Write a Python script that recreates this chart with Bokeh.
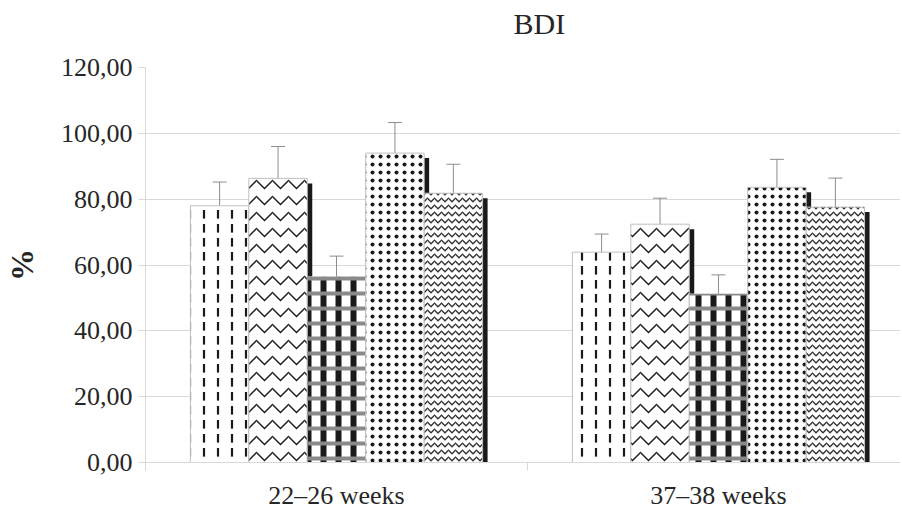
from bokeh.plotting import figure
from bokeh.models import (Range1d, FixedTicker, ColumnDataSource, Whisker, TeeHead, Title)
from bokeh.embed import file_html
from bokeh.resources import INLINE

# ---- data ----
groups = ["22–26 weeks", "37–38 weeks"]
means_g1 = [78.0, 86.3, 56.4, 94.0, 81.8]
errs_g1 = [7.2, 9.7, 6.3, 9.3, 8.8]
means_g2 = [63.9, 72.4, 51.2, 83.6, 77.6]
errs_g2 = [5.5, 7.9, 5.8, 8.5, 8.8]
y_ticks = [0, 20, 40, 60, 80, 100, 120]
y_tick_labels = ["0,00", "20,00", "40,00", "60,00", "80,00", "100,00", "120,00"]
title_text = "BDI"
y_label = "%"

FONT = "Liberation Serif"
TXT = "#262626"
W, H = 900, 512
left_b, right_b, top_b, bottom_b = 143, 0, 67, 49
frame_w = W - left_b - right_b
frame_h = H - top_b - bottom_b
group_px = 383.0
x_end = frame_w / group_px
bar_w = 0.153
px_x = 1.0 / group_px           # data units per pixel in x
px_y = 120.0 / frame_h

p = figure(width=W, height=H, output_backend="svg", toolbar_location=None,
           x_range=Range1d(0, x_end), y_range=Range1d(0, 120),
           min_border_left=left_b, min_border_right=right_b,
           min_border_top=top_b, min_border_bottom=bottom_b)
p.outline_line_color = None
p.background_fill_color = "white"
p.border_fill_color = "white"

series_means = list(zip(means_g1, means_g2))
series_errs = list(zip(errs_g1, errs_g2))
n = len(series_means)
centers = [0.5 + g for g in range(len(groups))]

hatches = [
    dict(hatch_pattern="vertical_dash", hatch_scale=14, hatch_weight=2.2, hatch_color="#1a1a1a"),
    dict(hatch_pattern="horizontal_wave", hatch_scale=16, hatch_weight=1.3, hatch_color="#1a1a1a"),
    dict(hatch_pattern="vertical_line", hatch_scale=15, hatch_weight=6, hatch_color="#1a1a1a"),
    dict(hatch_pattern="dot", hatch_scale=8, hatch_weight=4.5, hatch_color="#1a1a1a"),
    dict(hatch_pattern="horizontal_wave", hatch_scale=7, hatch_weight=1.3, hatch_color="#333333"),
]

sources = []
for i in range(n):
    xs = [c + (i - (n - 1) / 2) * bar_w for c in centers]
    tops = list(series_means[i])
    errs = list(series_errs[i])
    src = ColumnDataSource(dict(
        x=xs, top=tops,
        sx=[x + 5 * px_x for x in xs],
        stop=[t - 5 * px_y for t in tops],
        lower=[t - e for t, e in zip(tops, errs)],
        upper=[t + e for t, e in zip(tops, errs)],
    ))
    sources.append(src)

# shadows
for src in sources:
    p.vbar(x="sx", top="stop", bottom=0, width=bar_w, source=src,
           fill_color="#1a1a1a", line_color=None)
# bars
for i, src in enumerate(sources):
    p.vbar(x="x", top="top", bottom=0, width=bar_w, source=src,
           fill_color="white", line_color="#c0c0c0", line_width=1, **hatches[i])
    if i == 2:
        p.vbar(x="x", top="top", bottom=0, width=bar_w, source=src,
               fill_alpha=0, line_color=None, hatch_pattern="horizontal_line",
               hatch_scale=15, hatch_weight=4, hatch_color="#8a8a8a")
# error bars
for src in sources:
    w = Whisker(base="x", lower="lower", upper="upper", source=src,
                line_color="#8c8c8c", line_width=1,
                upper_head=TeeHead(size=14, line_color="#8c8c8c", line_width=1),
                lower_head=TeeHead(size=14, line_color="#8c8c8c", line_width=1))
    p.add_layout(w)

# y axis
p.yaxis.ticker = FixedTicker(ticks=y_ticks)
p.yaxis.major_label_overrides = {t: l for t, l in zip(y_ticks, y_tick_labels)}
p.yaxis.major_label_text_font = FONT
p.yaxis.major_label_text_font_size = "26px"
p.yaxis.major_label_text_color = TXT
p.yaxis.axis_line_color = "#d9d9d9"
p.yaxis.major_tick_line_color = "#d9d9d9"
p.yaxis.major_tick_in = 0
p.yaxis.major_tick_out = 7
p.yaxis.minor_tick_line_color = None
p.yaxis.major_label_standoff = 6
p.yaxis.axis_label = y_label
p.yaxis.axis_label_text_font = FONT
p.yaxis.axis_label_text_font_size = "32px"
p.yaxis.axis_label_text_font_style = "bold"
p.yaxis.axis_label_text_color = TXT
p.yaxis.axis_label_standoff = 18

# x axis
p.xaxis.ticker = FixedTicker(ticks=centers, minor_ticks=[float(g) for g in range(len(groups) + 1)])
p.xaxis.major_label_overrides = {c: g for c, g in zip(centers, groups)}
p.xaxis.major_label_text_font = FONT
p.xaxis.major_label_text_font_size = "26px"
p.xaxis.major_label_text_color = TXT
p.xaxis.major_tick_line_color = None
p.xaxis.minor_tick_line_color = "#d9d9d9"
p.xaxis.minor_tick_in = 0
p.xaxis.minor_tick_out = 8
p.xaxis.axis_line_color = "#d9d9d9"
p.xaxis.major_label_standoff = 10

p.xgrid.grid_line_color = None
p.ygrid.ticker = FixedTicker(ticks=y_ticks)
p.ygrid.grid_line_color = "#d9d9d9"

# title on top, with an empty spacer title between it and the frame
p.title.text = title_text
p.title.align = "left"
p.title.offset = 368
p.title.vertical_align = "top"
p.title.standoff = 6
p.title.text_font = FONT
p.title.text_font_size = "30px"
p.title.text_font_style = "normal"
p.title.text_color = TXT
spacer = Title(text=" ", text_font_size="16px", standoff=4)
p.add_layout(spacer, "above")

open("out.html", "w").write(file_html(p, INLINE))
